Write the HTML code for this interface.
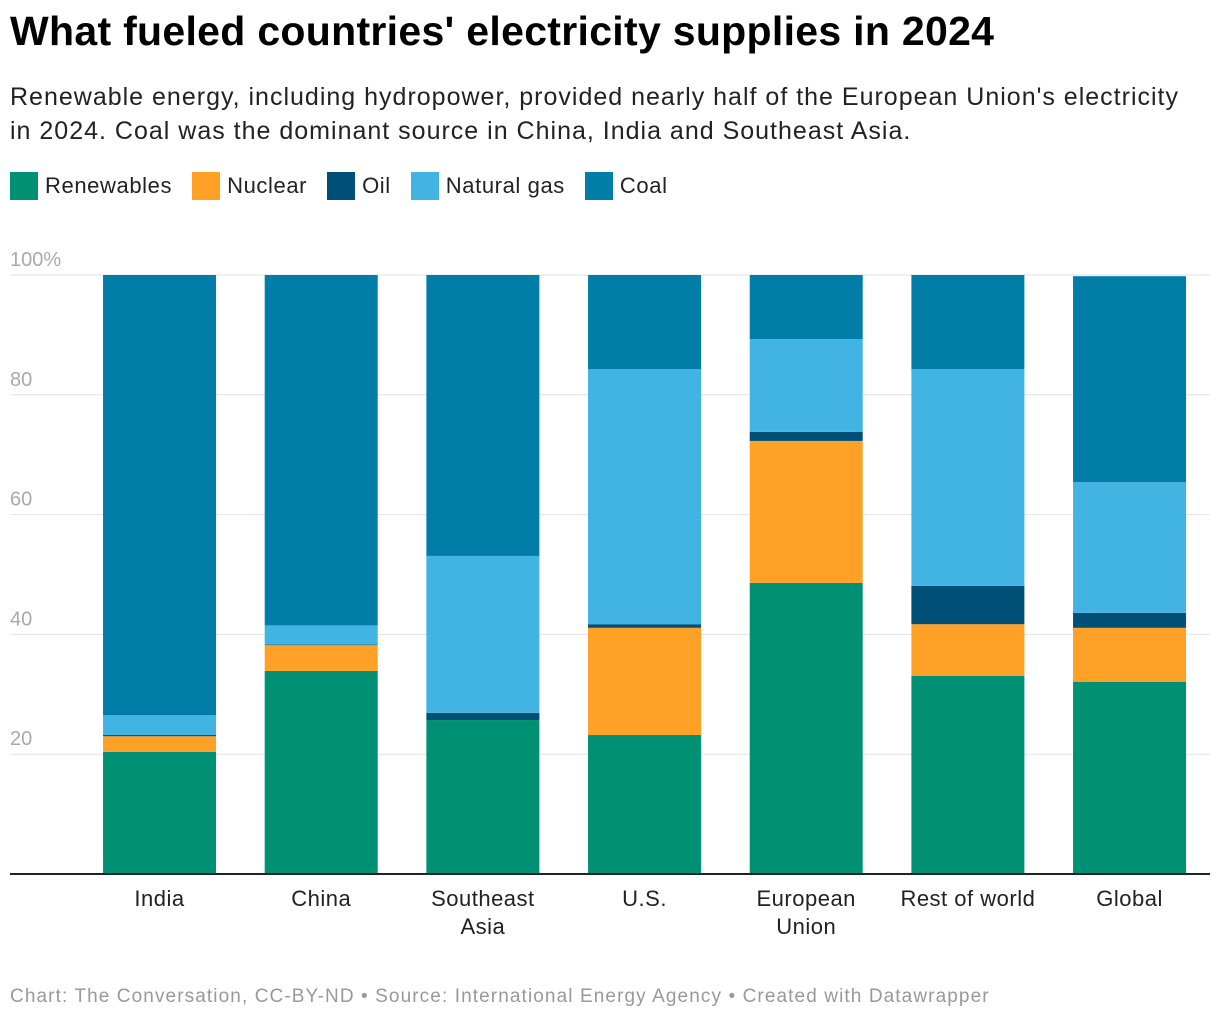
<!DOCTYPE html>
<html><head><meta charset="utf-8">
<style>
body{margin:0;width:1220px;height:1024px;background:#fff;font-family:"Liberation Sans",sans-serif;overflow:hidden;position:relative}
#title{position:absolute;left:10px;top:8px;font-size:41px;font-weight:bold;color:#000;letter-spacing:0.3px}
#sub{position:absolute;left:10px;top:80px;font-size:25px;line-height:34px;color:#222;width:1188px;letter-spacing:1px}
#legend{position:absolute;left:10px;top:172px;font-size:22px;color:#222;display:flex;letter-spacing:0.6px}
.li{display:flex;align-items:center;margin-right:20px}
.sw{width:28px;height:28px;margin-right:7px}
#foot{position:absolute;left:10px;top:986px;font-size:19px;color:#999;letter-spacing:1.1px}
svg{position:absolute;left:0;top:0}
</style></head><body>
<div id="title">What fueled countries' electricity supplies in 2024</div>
<div id="sub">Renewable energy, including hydropower, provided nearly half of the European Union's electricity in 2024. Coal was the dominant source in China, India and Southeast Asia.</div>
<div id="legend"></div>
<svg id="chart" width="1220" height="1024"></svg>
<div id="foot">Chart: The Conversation, CC-BY-ND • Source: International Energy Agency • Created with Datawrapper</div>
<script>
const categories=["India","China","Southeast Asia","U.S.","European Union","Rest of world","Global"];
const seriesNames=["Renewables","Nuclear","Oil","Natural gas","Coal"];
const renewables=[20.4,33.9,25.7,23.2,48.6,33.1,32.1];
const nuclear=[2.6,4.3,0,17.9,23.7,8.6,9.0];
const oil=[0.2,0.1,1.2,0.6,1.5,6.4,2.5];
const gas=[3.3,3.2,26.2,42.6,15.5,36.2,21.8];
const coal=[73.5,58.5,46.9,15.7,10.7,15.7,34.4];
const yTicks=[20,40,60,80,100];
const colors=["#009073","#ffa126","#004f77","#41b4e3","#007ea8"];
const series=[renewables,nuclear,oil,gas,coal];
const NS="http://www.w3.org/2000/svg";
const svg=document.getElementById('chart');
const y0=874,y100=275;
const y=v=>y0-(y0-y100)*v/100;
const bandStart=78.7,band=161.67,barW=113;
const xc=i=>bandStart+band*(i+0.5);
function mk(t,a){const e=document.createElementNS(NS,t);for(const k in a)e.setAttribute(k,a[k]);svg.appendChild(e);return e;}
yTicks.forEach(t=>{
  const g=mk('line',{x1:10,x2:1210,y1:y(t),y2:y(t),stroke:'#e2e2e2','stroke-width':1});
  
  
  const l=mk('text',{x:10,y:y(t)-9,'font-size':20,fill:'#aaa'});
  l.textContent=t===100?'100%':t;
  
  
});
categories.forEach((c,i)=>{
  let acc=0;
  series.forEach((s,j)=>{
    const v=s[i];
    const r=mk('rect',{x:xc(i)-barW/2,y:y(acc+v),width:barW,height:Math.max(0,y(acc)-y(acc+v)),fill:colors[j]});
    
    
    acc+=v;
  });
  const words=c==="Southeast Asia"?["Southeast","Asia"]:c==="European Union"?["European","Union"]:[c];
  words.forEach((w,k)=>{
    const t=mk('text',{x:xc(i),y:906+k*28,'font-size':22,fill:'#222','text-anchor':'middle','letter-spacing':'0.5px'});
    t.textContent=w;
    
    
  });
});
const ax=mk('line',{x1:10,x2:1210,y1:874,y2:874,stroke:'#222','stroke-width':2});


const lg=document.getElementById('legend');
seriesNames.forEach((n,j)=>{
  const d=document.createElement('div');d.className='li';
  
  
  d.innerHTML='<div class="sw" style="background:'+colors[j]+'"></div>'+n;
  lg.appendChild(d);
});
</script>
</body></html>
